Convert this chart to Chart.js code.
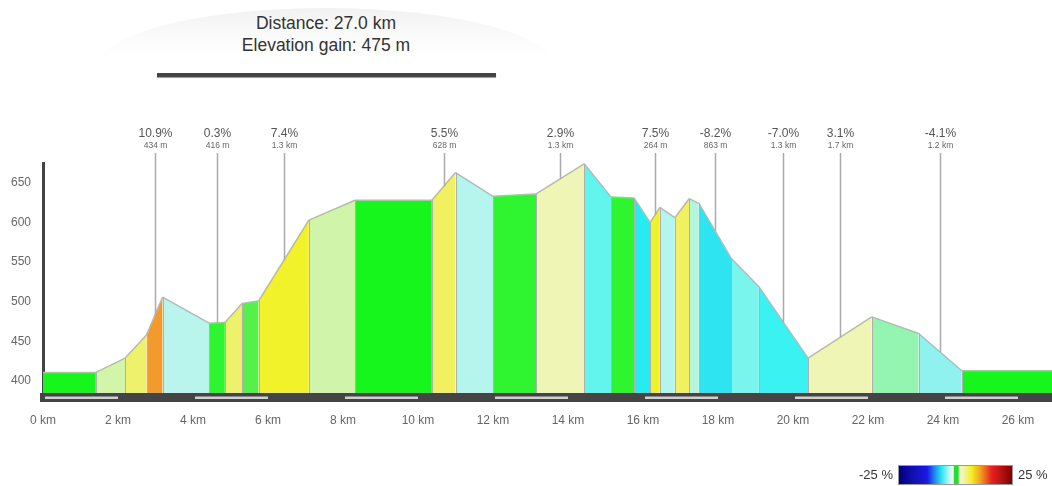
<!DOCTYPE html>
<html>
<head>
<meta charset="utf-8">
<script src="https://cdn.jsdelivr.net/npm/chart.js@4.4.1/dist/chart.umd.min.js"></script>
<style>
body { margin:0; width:1052px; height:486px; overflow:hidden; background:#fff; font-family:"Liberation Sans", Arial, sans-serif; }
#wrap { position:absolute; left:0; top:0; width:1060px; height:486px; }
#hill { position:absolute; left:96px; top:8px; width:460px; height:60px; border-radius:50% 50% 0 0 / 100% 100% 0 0; background:linear-gradient(#f2f2f2, #fbfbfb 50%, #fff 80%); }
#headText { position:absolute; left:96px; top:12px; width:460px; text-align:center; font-size:17.5px; line-height:22px; color:#333; }
#rule { position:absolute; left:157px; top:73px; width:339px; height:4px; background:#444; box-shadow:0 1px 1px #999; }
#legend { position:absolute; left:840px; top:465px; width:212px; height:20px; font-size:13px; color:#333; }
#legend .lo { position:absolute; right:159px; top:2px; }
#legend .hi { position:absolute; left:178px; top:2px; }
#legend .bar { position:absolute; left:58px; top:0; width:113px; height:18px; border:1px solid #999;
  background:linear-gradient(to right, #00007f 0%, #1010b0 12%, #1a1ae6 25%, #1e90f0 32%, #30e8f0 38%, #c8f8f4 45%, #f4f8f0 48%, #22dd33 49%, #22dd33 52%, #f6f6c8 54%, #f2f2a0 58%, #f2f222 64%, #f2a020 72%, #e82020 82%, #b01010 92%, #7f0000 100%); }
</style>
</head>
<body>
<div id="hill"></div>
<div id="headText">Distance: 27.0 km<br>Elevation gain: 475 m</div>
<div id="rule"></div>
<div id="wrap"><canvas id="graph"></canvas></div>
<div id="legend"><span class="lo">-25 %</span><div class="bar"></div><span class="hi">25 %</span></div>
<script>
// profile points: distance (km) and elevation (m)
var distKm = [0, 1.41, 2.19, 2.76, 3.19, 4.43, 4.85, 5.31, 5.75, 7.09, 8.32, 10.37, 11.0, 12.0, 13.15, 14.43,
              15.15, 15.76, 16.19, 16.45, 16.85, 17.23, 17.49, 18.35, 19.09, 20.4, 22.1, 23.35, 24.5, 27.0];
var elevM = [411, 411, 429, 458, 506, 473, 474, 498, 501, 603, 628, 628, 663, 633, 636, 674,
             632, 631, 600, 619, 606, 630, 624, 555, 519, 429, 481, 460, 413, 413];

// grade labels: segment index, grade, segment length
var labelSeg = [3, 5, 8, 11, 14, 18, 22, 24, 25, 27];
var labelPct = ["10.9%", "0.3%", "7.4%", "5.5%", "2.9%", "7.5%", "-8.2%", "-7.0%", "3.1%", "-4.1%"];
var labelLen = ["434 m", "416 m", "1.3 km", "628 m", "1.3 km", "264 m", "863 m", "1.3 km", "1.7 km", "1.2 km"];

var xTicks = [0, 2, 4, 6, 8, 10, 12, 14, 16, 18, 20, 22, 24, 26];
var yTicks = [400, 450, 500, 550, 600, 650];

// fill colour of each segment (grade colour scale)
var segColors = ["#16f51c", "#d2f5aa", "#eef26a", "#f29a2b", "#b9f5ec", "#2ef530", "#eef26a", "#55f04a",
  "#f2f22a", "#d0f5aa", "#16f51c", "#f0f060", "#b4f5ee", "#2ef530", "#eef5b5", "#62f5ee",
  "#2ef530", "#26ecf2", "#f2f22a", "#b4f5ee", "#f0f060", "#b4f5dc", "#2ee4f0", "#7af5ee",
  "#3af2f2", "#eef5b5", "#94f5b0", "#90f2ee", "#16f51c"];

var datasets = [];
for (var i = 0; i < distKm.length - 1; i++) {
    datasets.push({
        data: [{x: distKm[i], y: elevM[i]}, {x: distKm[i + 1], y: elevM[i + 1]}],
        backgroundColor: segColors[i],
        borderColor: "#b8b8b8",
        borderWidth: 1.5,
        pointRadius: 0,
        tension: 0,
        fill: 'start'
    });
}

var profileDecor = {
    id: 'profileDecor',
    afterDatasetsDraw: function (chart) {
        var ctx = chart.ctx, xs = chart.scales.x, ys = chart.scales.y;
        var bottom = chart.chartArea.bottom;
        ctx.save();
        // separators between segments
        ctx.strokeStyle = "#b0b0b0";
        ctx.lineWidth = 1;
        for (var i = 1; i < distKm.length - 1; i++) {
            var px = Math.round(xs.getPixelForValue(distKm[i])) + 0.5;
            ctx.beginPath();
            ctx.moveTo(px, ys.getPixelForValue(elevM[i]));
            ctx.lineTo(px, bottom);
            ctx.stroke();
        }
        // grade labels
        ctx.textAlign = 'center';
        ctx.textBaseline = 'middle';
        for (var j = 0; j < labelSeg.length; j++) {
            var s = labelSeg[j];
            var mx = (distKm[s] + distKm[s + 1]) / 2;
            var me = (elevM[s] + elevM[s + 1]) / 2;
            var lx = Math.round(xs.getPixelForValue(mx)) + 0.5;
            ctx.strokeStyle = "#aaa";
            ctx.lineWidth = 1.5;
            ctx.beginPath();
            ctx.moveTo(lx, 153);
            ctx.lineTo(lx, ys.getPixelForValue(me));
            ctx.stroke();
            ctx.fillStyle = "#555";
            ctx.font = "12px 'Liberation Sans', Arial";
            ctx.fillText(labelPct[j], lx, 134);
            ctx.font = "8.5px 'Liberation Sans', Arial";
            ctx.fillStyle = "#666";
            ctx.fillText(labelLen[j], lx, 146);
        }
        // x axis band with alternating stripes
        ctx.fillStyle = "#444";
        ctx.fillRect(40, bottom, chart.width - 40, 9);
        ctx.fillStyle = "#d0d0d0";
        for (var k = 0; k < xTicks.length; k += 2) {
            var x0 = xs.getPixelForValue(xTicks[k]) + 2;
            var x1 = xs.getPixelForValue(xTicks[k] + 2);
            ctx.fillRect(x0, bottom + 3.5, x1 - x0, 2.5);
        }
        ctx.restore();
    }
};

var context = document.querySelector('#graph').getContext('2d');
var myChart = new Chart(context, {
    type: 'line',
    data: {datasets: datasets},
    plugins: [profileDecor],
    options: {
        responsive: true,
        maintainAspectRatio: false,
        animation: false,
        layout: {padding: {top: 163, left: 0, right: 4.5, bottom: 0}},
        plugins: {legend: {display: false}, tooltip: {enabled: false}},
        scales: {
            x: {
                type: 'linear',
                min: 0,
                max: 27,
                afterFit: function (scale) { scale.height = 93; },
                afterBuildTicks: function (scale) { scale.ticks = xTicks.map(function (v) { return {value: v}; }); },
                grid: {display: false, drawTicks: false},
                border: {display: false},
                ticks: {
                    padding: 20,
                    color: "#666",
                    font: {family: "'Liberation Sans', Arial", size: 12},
                    maxRotation: 0,
                    callback: function (v) { return v + " km"; }
                }
            },
            y: {
                min: 385,
                max: 675,
                afterFit: function (scale) { scale.width = 43; },
                afterBuildTicks: function (scale) { scale.ticks = yTicks.map(function (v) { return {value: v}; }); },
                grid: {display: false, drawTicks: false},
                border: {display: true, color: "#444", width: 3},
                ticks: {
                    padding: 12,
                    color: "#666",
                    font: {family: "'Liberation Sans', Arial", size: 12}
                }
            }
        }
    }
});
</script>
</body>
</html>
